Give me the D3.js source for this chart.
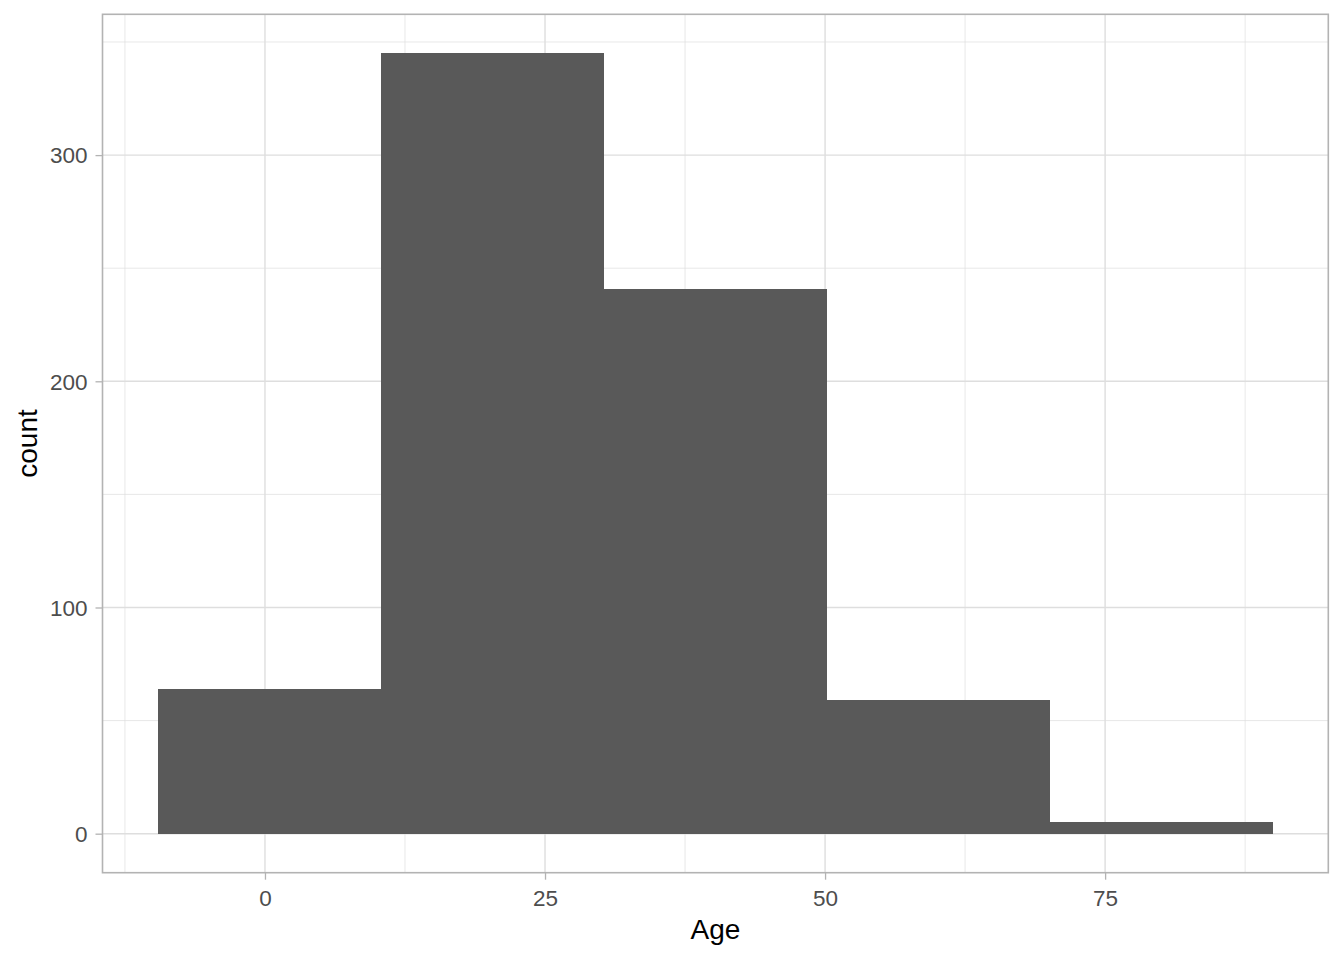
<!DOCTYPE html>
<html>
<head>
<meta charset="utf-8">
<script src="https://cdn.jsdelivr.net/npm/d3@7"></script>
<style>
  html, body { margin: 0; padding: 0; background: #ffffff; }
  svg { display: block; font-family: "Liberation Sans", Arial, sans-serif; }
</style>
</head>
<body>
<svg id="chart" width="1344" height="960"></svg>
<script>
// Histogram of Age (5 bins), counts
const binStarts = [-9.53, 10.37, 30.26, 50.16, 70.05];
const binEnds   = [10.37, 30.26, 50.16, 70.05, 89.95];
const counts    = [64, 345, 241, 59, 5];
const xTicks = [0, 25, 50, 75];
const xMinor = [-12.5, 12.5, 37.5, 62.5, 87.5];
const yTicks = [0, 100, 200, 300];
const yMinor = [50, 150, 250, 350];
const xTitle = "Age";
const yTitle = "count";

const svg = d3.select("#chart");
const panel = { left: 102.5, right: 1328.3, top: 14.3, bottom: 872.7 };

const xMin = d3.min(binStarts), xMax = d3.max(binEnds);
const xPad = (xMax - xMin) * 0.05;
const x = d3.scaleLinear().domain([xMin - xPad, xMax + xPad]).range([panel.left, panel.right]);
const yMaxV = d3.max(counts);
const yPad = yMaxV * 0.05;
const y = d3.scaleLinear().domain([-yPad, yMaxV + yPad]).range([panel.bottom, panel.top]);

const g = svg.append("g");

// minor grid
g.selectAll("line.xminor").data(xMinor).enter().append("line")
  .attr("x1", d => x(d)).attr("x2", d => x(d))
  .attr("y1", panel.top).attr("y2", panel.bottom)
  .attr("stroke", "#dedede").attr("stroke-width", 0.7);
g.selectAll("line.yminor").data(yMinor).enter().append("line")
  .attr("y1", d => y(d)).attr("y2", d => y(d))
  .attr("x1", panel.left).attr("x2", panel.right)
  .attr("stroke", "#dedede").attr("stroke-width", 0.7);
// major grid
g.selectAll("line.xmajor").data(xTicks).enter().append("line")
  .attr("x1", d => x(d)).attr("x2", d => x(d))
  .attr("y1", panel.top).attr("y2", panel.bottom)
  .attr("stroke", "#dedede").attr("stroke-width", 1.4);
g.selectAll("line.ymajor").data(yTicks).enter().append("line")
  .attr("y1", d => y(d)).attr("y2", d => y(d))
  .attr("x1", panel.left).attr("x2", panel.right)
  .attr("stroke", "#dedede").attr("stroke-width", 1.4);

// bars
const bins = counts.map((c, i) => ({ x0: binStarts[i], x1: binEnds[i], c }));
g.selectAll("rect.bar").data(bins).enter().append("rect")
  .attr("x", d => x(d.x0))
  .attr("width", d => x(d.x1) - x(d.x0))
  .attr("y", d => y(d.c))
  .attr("height", d => y(0) - y(d.c))
  .attr("fill", "#595959")
  .attr("shape-rendering", "crispEdges");

// panel border
g.append("rect")
  .attr("x", panel.left).attr("y", panel.top)
  .attr("width", panel.right - panel.left).attr("height", panel.bottom - panel.top)
  .attr("fill", "none").attr("stroke", "#b3b3b3").attr("stroke-width", 1.6);

// axes
const xAxis = d3.axisBottom(x).tickValues(xTicks).tickSize(7).tickPadding(5).tickFormat(d3.format("d"));
const xg = svg.append("g").attr("transform", `translate(0,${panel.bottom})`).call(xAxis);
const yAxis = d3.axisLeft(y).tickValues(yTicks).tickSize(7).tickPadding(5).tickFormat(d3.format("d"));
const yg = svg.append("g").attr("transform", `translate(${panel.left},0)`).call(yAxis);
[xg, yg].forEach(a => {
  a.select(".domain").remove();
  a.selectAll(".tick line").attr("stroke", "#b3b3b3").attr("stroke-width", 1.3);
  a.selectAll(".tick text").attr("fill", "#4d4d4d")
    .style("font-size", "22.5px").style("font-family", "Liberation Sans, Arial, sans-serif");
});
xg.selectAll(".tick text").attr("dy", null).attr("y", 33.5);
yg.selectAll(".tick text").attr("dy", "0.35em").attr("x", -15);

// titles
svg.append("text")
  .attr("x", (panel.left + panel.right) / 2).attr("y", 939.3)
  .attr("text-anchor", "middle")
  .style("font-size", "28px").attr("fill", "#000")
  .text(xTitle);
svg.append("text")
  .attr("transform", `translate(37,${(panel.top + panel.bottom) / 2}) rotate(-90)`)
  .attr("text-anchor", "middle")
  .style("font-size", "28px").attr("fill", "#000")
  .text(yTitle);
</script>
</body>
</html>
